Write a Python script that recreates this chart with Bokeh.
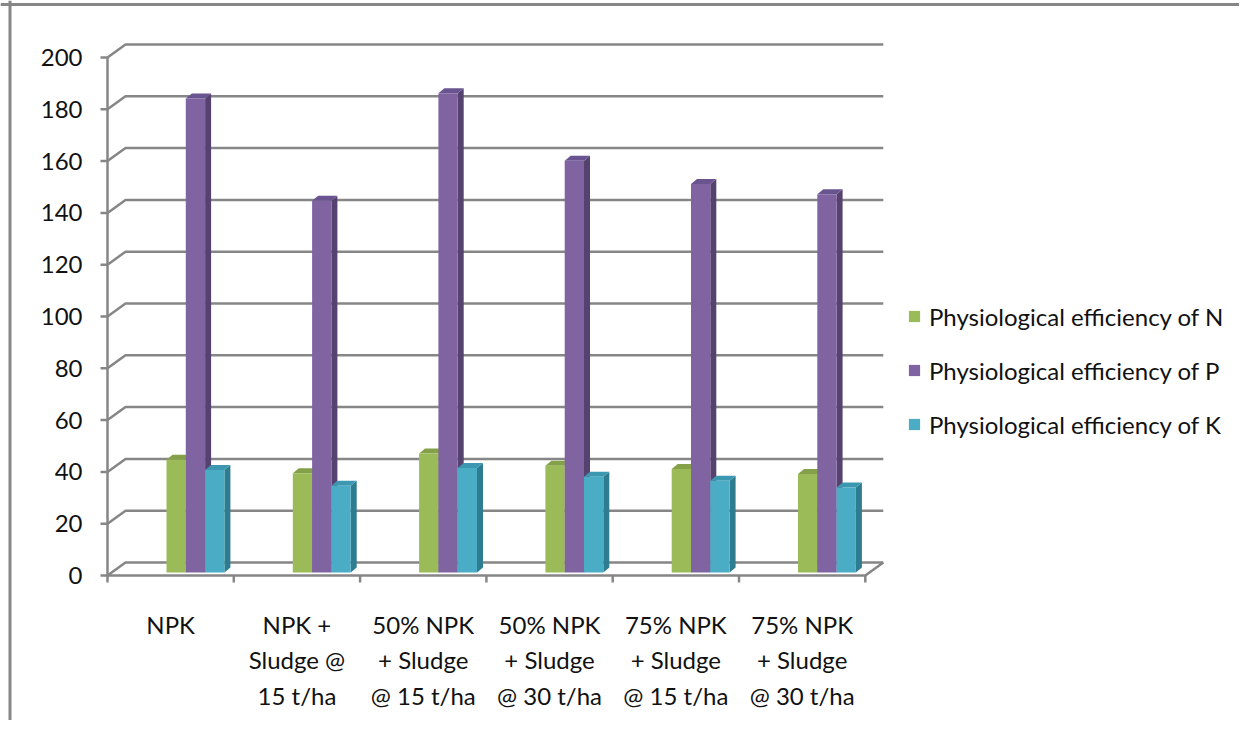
from bokeh.plotting import figure
from bokeh.models import ColumnDataSource, Range1d, Span, Legend, LegendItem
from bokeh.embed import file_html
from bokeh.resources import INLINE
from bokeh.core.properties import value

# ---------------- data ----------------
categories = [
    "NPK",
    "NPK +\nSludge @\n15 t/ha",
    "50% NPK\n+ Sludge\n@ 15 t/ha",
    "50% NPK\n+ Sludge\n@ 30 t/ha",
    "75% NPK\n+ Sludge\n@ 15 t/ha",
    "75% NPK\n+ Sludge\n@ 30 t/ha",
]
series_names = [
    "Physiological efficiency of N",
    "Physiological efficiency of P",
    "Physiological efficiency of K",
]
eff_N = [43.5, 38.3, 45.9, 41.2, 40.0, 38.0]
eff_P = [183.0, 143.5, 185.0, 159.0, 150.0, 146.0]
eff_K = [39.6, 33.5, 40.3, 37.0, 35.4, 32.8]
y_ticks = [0, 20, 40, 60, 80, 100, 120, 140, 160, 180, 200]

# ---------------- styles ----------------
front_colors = ["#9BBB59", "#8064A2", "#4BACC6"]
side_colors = ["#71893F", "#56426F", "#2E7C90"]
top_colors = ["#84A14A", "#6A5490", "#3C98B1"]
GRID = "#868686"
FONT = value("Lato")

W, H = 1239, 720
PX_X = 126.3   # px per category
PX_Y = 2.59    # px per value unit
X0, Y0 = 107.0, 575.0  # screen position of the origin
n = len(categories)

x_lo = (0 - X0) / PX_X
x_hi = (W - X0) / PX_X
y_lo = (Y0 - H) / PX_Y
y_hi = (Y0 - 0) / PX_Y

p = figure(width=W, height=H, output_backend="svg", toolbar_location=None,
           x_range=Range1d(x_lo, x_hi), y_range=Range1d(y_lo, y_hi),
           x_axis_location=None, y_axis_location=None, min_border=0)
p.outline_line_color = None
p.xgrid.grid_line_color = None
p.ygrid.grid_line_color = None
p.background_fill_color = "white"

# 3D depth offsets (in data units)
dxb = 18 / PX_X
dyb = 13 / PX_Y
ymax = y_ticks[-1]

# back wall gridlines + left-wall diagonals
gx, gy = [], []
for t in y_ticks:
    gx.append([0, dxb, n + dxb])
    gy.append([t, t + dyb, t + dyb])
p.multi_line(xs=gx, ys=gy, line_color=GRID, line_width=2.5)

# floor front edge and right side
p.line(x=[0, n, n + dxb], y=[0, 0, dyb], line_color=GRID, line_width=2.5)

# front value axis
p.segment(x0=[0], y0=[0], x1=[0], y1=[ymax], line_color=GRID, line_width=2.5)
p.segment(x0=[-7 / PX_X] * len(y_ticks), y0=y_ticks, x1=[0] * len(y_ticks), y1=y_ticks,
          line_color=GRID, line_width=2.5)
# category ticks
p.segment(x0=list(range(n + 1)), y0=[0] * (n + 1), x1=list(range(n + 1)),
          y1=[-7 / PX_Y] * (n + 1), line_color=GRID, line_width=2.5)

# tick labels
p.text(x=[-25 / PX_X] * len(y_ticks), y=y_ticks, text=[str(t) for t in y_ticks],
       text_align="right", text_baseline="middle", text_font=FONT,
       text_font_size="24px", text_color="#111111")
p.text(x=[i + 0.5 for i in range(n)], y=[(Y0 - 609) / PX_Y] * n, text=categories,
       text_align="center", text_baseline="top", text_font=FONT,
       text_font_size="24px", text_color="#111111", text_line_height=1.24)

# 3D bars
base = 3 / PX_Y
bw = 19.3 / PX_X
goff = 59 / PX_X
dxs = 6 / PX_X
dys = 5 / PX_Y
fronts = []
for s, vals in enumerate([eff_N, eff_P, eff_K]):
    left = [i + goff + s * bw for i in range(n)]
    right = [l + bw for l in left]
    top = [base + v for v in vals]
    side_xs = [[r, r + dxs, r + dxs, r] for r in right]
    side_ys = [[base, base + dys, t + dys, t] for t in top]
    top_xs = [[l, l + dxs, r + dxs, r] for l, r in zip(left, right)]
    top_ys = [[t, t + dys, t + dys, t] for t in top]
    p.patches(xs=side_xs, ys=side_ys, fill_color=side_colors[s], line_color=None)
    p.patches(xs=top_xs, ys=top_ys, fill_color=top_colors[s], line_color=None)
    src = ColumnDataSource(dict(left=left, right=right, top=top, bottom=[base] * n))
    r = p.quad(left="left", right="right", top="top", bottom="bottom", source=src,
               fill_color=front_colors[s], line_color=None)
    fronts.append(r)

legend = Legend(items=[LegendItem(label=nm, renderers=[r]) for nm, r in zip(series_names, fronts)],
                location=(907, 281), glyph_width=14, glyph_height=14,
                label_text_font="Lato", label_text_font_size="24px", label_text_color="#111111",
                label_height=30, spacing=24, padding=0, margin=0, label_standoff=8,
                border_line_color=None, background_fill_alpha=0)
p.add_layout(legend)

# chart border (left and top edges)
p.add_layout(Span(location=(9.5 - X0) / PX_X, dimension="height", line_color=GRID, line_width=3))
p.add_layout(Span(location=(Y0 - 4) / PX_Y, dimension="width", line_color=GRID, line_width=3))

open("out.html", "w").write(file_html(p, INLINE))
